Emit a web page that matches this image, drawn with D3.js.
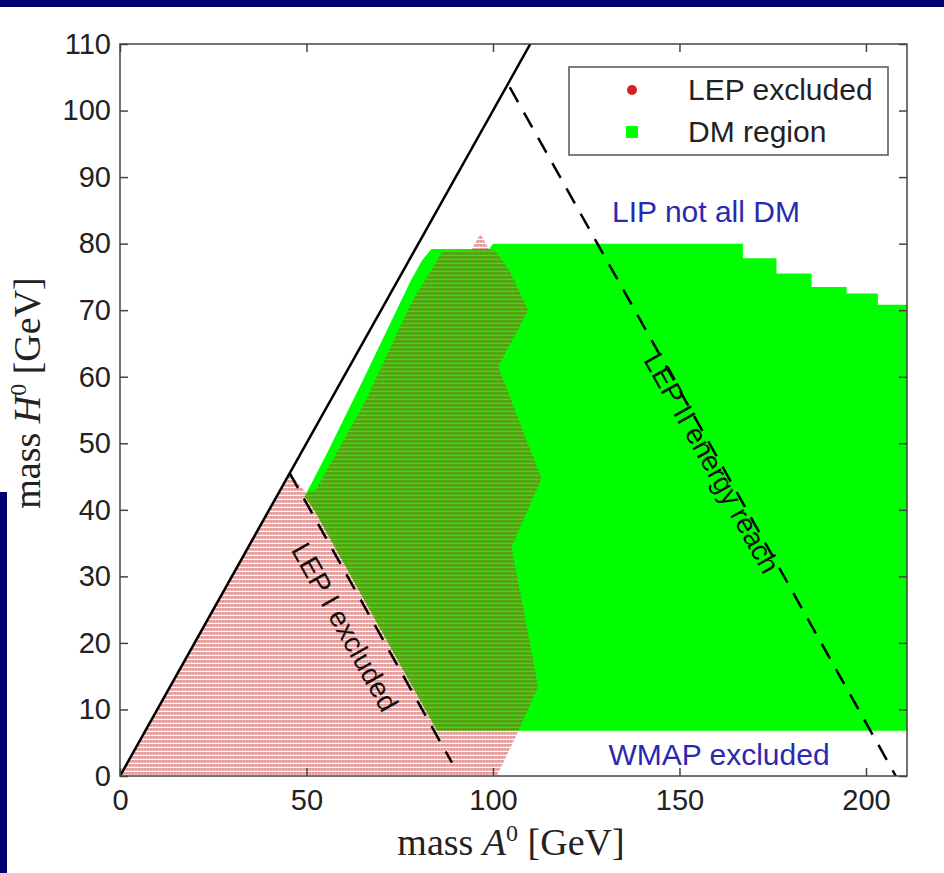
<!DOCTYPE html>
<html>
<head>
<meta charset="utf-8">
<script src="https://cdn.jsdelivr.net/npm/d3@7"></script>
<style>
  body { margin: 0; background: #fff; }
  svg { display: block; }
  .tick text { font-family: "Liberation Sans", Arial, Helvetica, sans-serif; font-size: 29px; fill: #222; }
  .tick line { stroke: #444; stroke-width: 1.5; }
  .domain { display: none; }
</style>
</head>
<body>
<svg id="chart" width="944" height="873"></svg>
<script>
// axis ticks
var xTicks = [0, 50, 100, 150, 200];
var yTicks = [0, 10, 20, 30, 40, 50, 60, 70, 80, 90, 100, 110];

// DM region outline (mass A0, mass H0) in GeV
var dmRegion = [
  [85, 6.8], [211, 6.8], [211, 70.8], [203.2, 70.8], [203.2, 72.5], [194.8, 72.5],
  [194.8, 73.5], [185.4, 73.5], [185.4, 75.5], [176, 75.5], [176, 77.8], [167, 77.8],
  [167, 80], [100, 80], [99, 79.2], [83.5, 79.2], [81, 77.5], [78, 74.5], [66, 60.5],
  [55.5, 48.5], [49.5, 42], [52, 40], [85, 6.8]
];

// LEP excluded outline
var lepRegion = [
  [0, 0], [45.5, 45.5], [50, 42.5], [52.5, 43], [59, 49.5], [65.5, 56], [78, 71],
  [86.5, 78.9], [94.2, 79], [96.6, 81.5], [99.1, 79], [100.5, 79], [104.3, 76.1],
  [109.4, 70], [101.4, 61.5], [113, 44.7], [105, 34.4], [112.1, 13.4],
  [106.7, 6.6], [101, 0]
];

// lines
var kinLine = [[0, 0], [110, 110]];        // mH = mA
var lep1Line = [[45.5, 45.5], [89, 2]];    // LEP I
var lep2Line = [[104.5, 103.5], [208, 0]]; // LEP II energy reach

var svg = d3.select('#chart');
var W = 944, H = 873;

// slide frame bits
svg.append('rect').attr('x', 0).attr('y', 0).attr('width', W).attr('height', 7).attr('fill', '#000070');
svg.append('rect').attr('x', 0).attr('y', 492).attr('width', 7).attr('height', H - 492).attr('fill', '#000070');

var x = d3.scaleLinear().domain([0, 211]).range([120, 907]);
var y = d3.scaleLinear().domain([0, 110]).range([776, 44]);

var defs = svg.append('defs');
defs.append('clipPath').attr('id', 'clip')
  .append('rect').attr('x', x(0)).attr('y', y(110))
  .attr('width', x(211) - x(0)).attr('height', y(0) - y(110));

// rows of red dots, MATLAB scatter look
var pat = defs.append('pattern').attr('id', 'lepHatch')
  .attr('patternUnits', 'userSpaceOnUse')
  .attr('width', 3).attr('height', 4);
pat.append('rect').attr('x', 0).attr('y', 0).attr('width', 2.6).attr('height', 2.8)
  .attr('fill', '#c82828').attr('fill-opacity', 0.47);
pat.append('rect').attr('x', 2.6).attr('y', 0).attr('width', 0.4).attr('height', 2.8)
  .attr('fill', '#c82828').attr('fill-opacity', 0.3);

var line = d3.line().x(function (d) { return x(d[0]); }).y(function (d) { return y(d[1]); });

var plot = svg.append('g').attr('clip-path', 'url(#clip)');

plot.append('path').datum(dmRegion).attr('d', line).attr('fill', '#00ff00');
plot.append('path').datum(lepRegion).attr('d', line).attr('fill', 'url(#lepHatch)');

plot.append('path').datum(kinLine).attr('d', line)
  .attr('stroke', '#000').attr('stroke-width', 2.5).attr('fill', 'none');
plot.selectAll('path.dash').data([lep1Line, lep2Line]).enter()
  .append('path').classed('dash', true).attr('d', line)
  .attr('stroke', '#000').attr('stroke-width', 2.5).attr('fill', 'none')
  .attr('stroke-dasharray', '17,12');

// axes, inward ticks on all sides
svg.append('g').attr('transform', 'translate(0,' + y(0) + ')')
  .call(d3.axisBottom(x).tickValues(xTicks).tickSize(-8).tickSizeOuter(0).tickPadding(13));
svg.append('g').attr('transform', 'translate(0,' + y(110) + ')')
  .call(d3.axisTop(x).tickValues(xTicks).tickSize(-8).tickSizeOuter(0).tickFormat(''));
svg.append('g').attr('transform', 'translate(' + x(0) + ',0)')
  .call(d3.axisLeft(y).tickValues(yTicks).tickSize(-8).tickSizeOuter(0).tickPadding(9));
svg.append('g').attr('transform', 'translate(' + x(211) + ',0)')
  .call(d3.axisRight(y).tickValues(yTicks).tickSize(-8).tickSizeOuter(0).tickFormat(''));

svg.append('rect').attr('x', x(0)).attr('y', y(110))
  .attr('width', x(211) - x(0)).attr('height', y(0) - y(110))
  .attr('fill', 'none').attr('stroke', '#444').attr('stroke-width', 1.5);

// axis titles
var serif = '"Liberation Serif", "Times New Roman", serif';
function massLabel(sel, sym) {
  sel.append('tspan').text('mass ');
  sel.append('tspan').attr('font-style', 'italic').text(sym);
  sel.append('tspan').attr('dy', -14).attr('font-size', 24).text('0');
  sel.append('tspan').attr('dy', 14).text(' [GeV]');
}
svg.append('text').attr('x', 511).attr('y', 855).attr('text-anchor', 'middle')
  .attr('font-family', serif).attr('font-size', 38).attr('fill', '#222')
  .call(massLabel, 'A');
svg.append('text').attr('transform', 'translate(40,393) rotate(-90)').attr('text-anchor', 'middle')
  .attr('font-family', serif).attr('font-size', 38).attr('fill', '#222')
  .call(massLabel, 'H');

// annotations
var sans = '"Liberation Sans", Arial, Helvetica, sans-serif';
svg.append('text').attr('x', 706).attr('y', 222).attr('text-anchor', 'middle')
  .attr('font-family', sans).attr('font-size', 30).attr('fill', '#2a2ab0').text('LIP not all DM');
svg.append('text').attr('x', 719).attr('y', 765).attr('text-anchor', 'middle')
  .attr('font-family', sans).attr('font-size', 30).attr('fill', '#2a2ab0').text('WMAP excluded');

var ang = Math.atan2(y(0) - y(1), x(1) - x(0)) * 180 / Math.PI; // slope of x+y=c lines on screen
svg.append('text')
  .attr('transform', 'translate(' + 345 + ',' + 627 + ') rotate(' + ang + ')')
  .attr('text-anchor', 'middle').attr('dy', '0.35em')
  .attr('font-family', sans).attr('font-size', 28).attr('fill', '#111').text('LEP I excluded');
svg.append('text')
  .attr('transform', 'translate(' + 712 + ',' + 463 + ') rotate(' + ang + ')')
  .attr('text-anchor', 'middle').attr('dy', '0.35em')
  .attr('font-family', sans).attr('font-size', 28).attr('fill', '#111').text('LEP II energy reach');

// legend
var leg = svg.append('g');
leg.append('rect').attr('x', 569).attr('y', 67).attr('width', 319).attr('height', 88)
  .attr('fill', '#fff').attr('stroke', '#555').attr('stroke-width', 1.5);
leg.append('circle').attr('cx', 632).attr('cy', 90).attr('r', 5).attr('fill', '#d42020');
leg.append('rect').attr('x', 626).attr('y', 126).attr('width', 12).attr('height', 12).attr('fill', '#00ff00');
leg.append('text').attr('x', 688).attr('y', 100).attr('font-family', sans).attr('font-size', 30)
  .attr('fill', '#222').text('LEP excluded');
leg.append('text').attr('x', 688).attr('y', 142).attr('font-family', sans).attr('font-size', 30)
  .attr('fill', '#222').text('DM region');
</script>
</body>
</html>
